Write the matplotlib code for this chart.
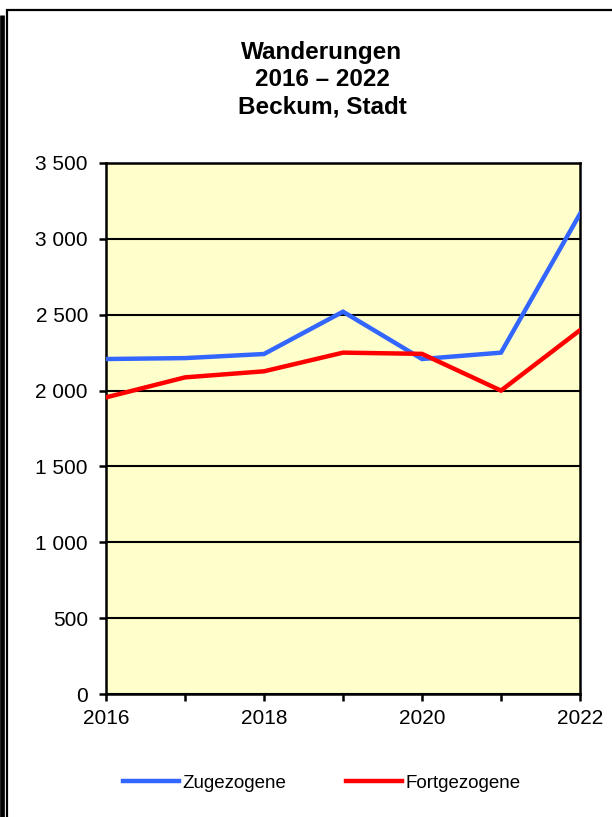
import matplotlib
matplotlib.use("Agg")
import matplotlib.pyplot as plt
from matplotlib.lines import Line2D
from matplotlib.ticker import FuncFormatter, MultipleLocator

# data
years = [2016, 2017, 2018, 2019, 2020, 2021, 2022]
zugezogene = [2208, 2214, 2241, 2520, 2208, 2250, 3165]
fortgezogene = [1955, 2087, 2127, 2250, 2242, 2000, 2398]
title = "Wanderungen\n2016 – 2022\nBeckum, Stadt"

plt.rcParams["font.family"] = ["Liberation Sans", "DejaVu Sans"]

W, H = 612, 817
fig = plt.figure(figsize=(W / 100, H / 100), dpi=100)

# axes box in pixels: left 106, right 580, top 163, bottom 694
ax = fig.add_axes([106 / W, 1 - 694 / H, (580 - 106) / W, (694 - 163) / H])
ax.set_facecolor("#FFFFCC")

ax.plot(years, zugezogene, color="#3366FF", lw=3.2, label="Zugezogene",
        solid_joinstyle="miter", zorder=3)
ax.plot(years, fortgezogene, color="#FF0000", lw=3.2, label="Fortgezogene",
        solid_joinstyle="miter", zorder=3)

ax.set_xlim(2016, 2022)
ax.set_ylim(0, 3500)
ax.yaxis.set_major_locator(MultipleLocator(500))
ax.xaxis.set_major_locator(MultipleLocator(2))
ax.xaxis.set_minor_locator(MultipleLocator(1))
ax.yaxis.set_major_formatter(FuncFormatter(lambda v, p: f"{int(v):,}".replace(",", " ")))
ax.grid(axis="y", color="black", lw=1.5, zorder=1)

for s in ax.spines.values():
    s.set_linewidth(1.8)
ax.tick_params(axis="both", which="both", direction="out", length=5, width=1.8,
               labelsize=15, colors="black")
ax.tick_params(axis="x", pad=6)
ax.tick_params(axis="y", pad=8)

fig.text(322 / W, 1 - 80 / H, title, ha="center", va="center", fontsize=17.5,
         fontweight="bold", linespacing=1.24)

fig.legend(loc="center", bbox_to_anchor=(322 / W, 1 - 783 / H), ncol=2,
           frameon=False, fontsize=13.5, handlelength=2.95, handletextpad=0.2,
           columnspacing=3.2)

# page border
def px_line(xs, ys, lw):
    fig.add_artist(Line2D([x / W for x in xs], [1 - y / H for y in ys],
                          transform=fig.transFigure, color="black", lw=lw,
                          solid_capstyle="butt"))

px_line([2, 2], [15, H], 3.4)
px_line([6.5, 6.5], [9, H], 1.6)
px_line([6, W], [10, 10], 1.6)

fig.savefig("out.png", dpi=100)
